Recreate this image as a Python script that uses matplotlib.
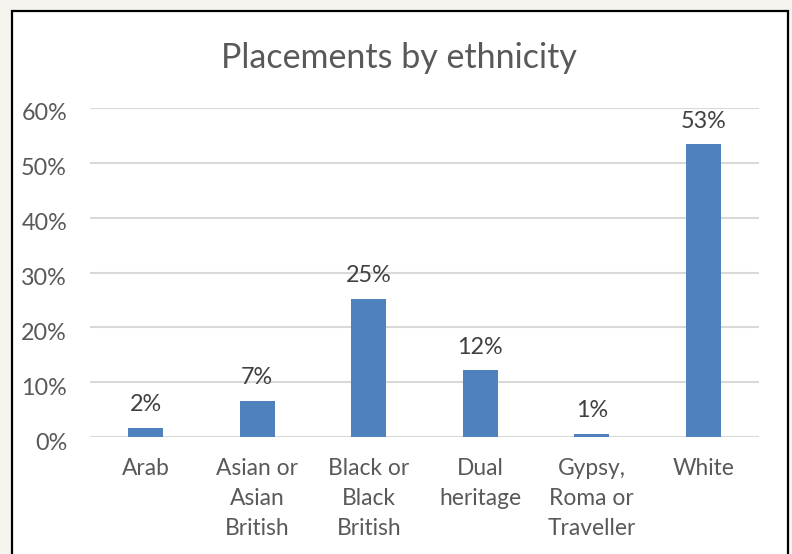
import matplotlib
matplotlib.use("Agg")
import matplotlib.pyplot as plt
import matplotlib.transforms as mtransforms
from matplotlib.patches import Rectangle

categories = ["Arab", "Asian or\nAsian\nBritish", "Black or\nBlack\nBritish",
              "Dual\nheritage", "Gypsy,\nRoma or\nTraveller", "White"]
values = [1.7, 6.6, 25.2, 12.2, 0.6, 53.4]
yticks = [0, 10, 20, 30, 40, 50, 60]
title = "Placements by ethnicity"

plt.rcParams['font.family'] = ['Lato', 'DejaVu Sans']

W, H = 792, 554
fig = plt.figure(figsize=(W/100, H/100), dpi=100)
fig.patch.set_facecolor('#f5f4ef')

# chart frame
fig.patches.append(Rectangle((12/W, -0.05), (788-12)/W, (H-11)/H + 0.05,
                             transform=fig.transFigure, facecolor='white',
                             edgecolor='black', linewidth=1.6, zorder=-1))

ax = fig.add_axes([90/W, 1-437/H, 669/W, 329/H])
ax.set_zorder(2)
ax.set_facecolor('none')
x = range(len(categories))
bars = ax.bar(x, values, width=0.31, color='#4f81bd', zorder=3)
ax.set_xlim(-0.5, len(categories)-0.5)
ax.set_ylim(0, 60)
ax.set_yticks(yticks)
ax.set_yticklabels([f"{t}%" for t in yticks], fontsize=16.8, color='#595959')
ax.set_xticks(list(x))
ax.set_xticklabels(categories, fontsize=16.4, color='#595959', linespacing=1.52, va='top')
ax.tick_params(axis='both', length=0)
ax.tick_params(axis='y', pad=16.5)
ax.tick_params(axis='x', pad=15)
off = mtransforms.ScaledTranslation(0, -4/100, fig.dpi_scale_trans)
for lab in ax.get_yticklabels():
    lab.set_transform(lab.get_transform() + off)
for s in ax.spines.values():
    s.set_visible(False)
ax.yaxis.grid(True, color='#d9d9d9', linewidth=1.5, zorder=0)
ax.set_axisbelow(True)

for b, v in zip(bars, values):
    ax.annotate(f"{v:.0f}%", (b.get_x()+b.get_width()/2, v), xytext=(0, 9),
                textcoords='offset points', ha='center', va='bottom',
                fontsize=16.8, color='#404040')

fig.text(399/W, 1-58/H, title, ha='center', va='center', fontsize=24.5, color='#595959', zorder=3)

fig.savefig("out.png", dpi=100, facecolor=fig.get_facecolor())
